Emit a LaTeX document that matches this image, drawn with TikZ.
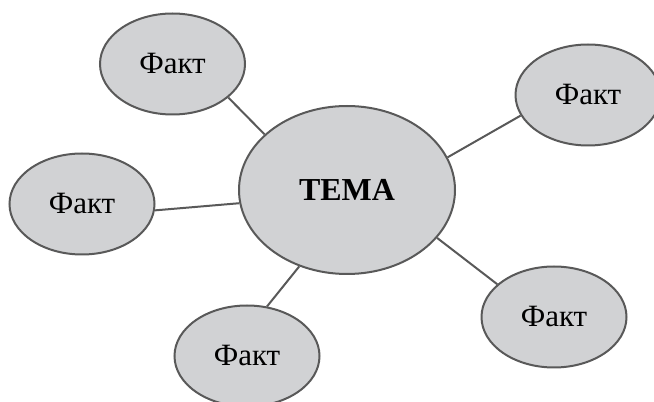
\documentclass[tikz,border=0pt]{standalone}
\usepackage{fontspec}
\setmainfont{Liberation Serif}
\usetikzlibrary{shapes.geometric,positioning}
\definecolor{bubble}{RGB}{209,210,212}
\definecolor{rim}{RGB}{89,89,89}

\begin{document}
\begin{tikzpicture}[x=1pt,y=1pt,on grid,
    fact/.style={ellipse,draw=rim,line width=2pt,fill=bubble,inner sep=0pt,
      minimum width=145pt,minimum height=101pt,font=\fontsize{31}{36}\selectfont},
    topic/.style={fact,minimum width=216pt,minimum height=168pt,
      font=\fontsize{32}{38}\selectfont\bfseries},
    link/.style={draw=rim,line width=2pt}]
      \useasboundingbox (0,0) rectangle (654,402);
      \node[topic] (t) at (347,212) {TEMA};
      \node[fact] (f_1) [above left=126pt and 174.5pt of t] {Факт};
      \node[fact] (f_2) [above right=95pt and 241pt of t] {Факт};
      \node[fact] (f_3) [below left=14pt and 265pt of t] {Факт};
      \node[fact] (f_4) [below left=166pt and 100pt of t] {Факт};
      \node[fact] (f_5) [below right=127pt and 207pt of t] {Факт};
        \path[link]
        (t.146) edge (f_1.-31)
        (t.18) edge (f_2.197)
        (t.187) edge (f_3.-5)
        (t.-122) edge (f_4.68)
        (t.-28) edge (f_5.150);
    \end{tikzpicture}
\end{document}
